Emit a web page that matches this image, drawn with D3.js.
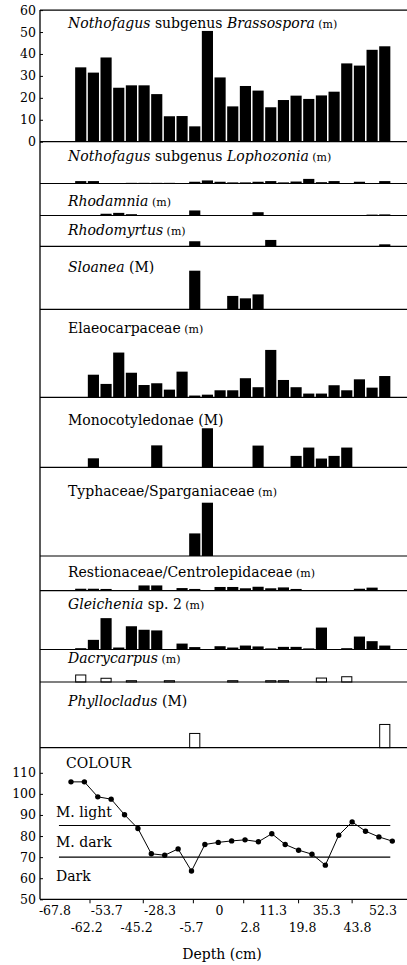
<!DOCTYPE html>
<html>
<head>
<meta charset="utf-8">
<script src="https://cdn.jsdelivr.net/npm/d3@7"></script>
<style>
  body { margin: 0; background: #fff; }
  svg { display: block; }
  text { font-family: "DejaVu Serif", serif; fill: #000; }
</style>
</head>
<body>
<svg id="chart" width="407" height="965"></svg>
<script>
// ---- Pollen percentages per sample (25 samples, top to bottom of the core) ----
const brassospora   = [33.9, 31.5, 38.4, 24.6, 25.7, 25.7, 21.7, 11.6, 11.7, 7.0, 50.5, 29.3, 16.1, 25.4, 23.3, 15.7, 19.0, 21.0, 19.5, 21.1, 22.8, 35.7, 34.7, 41.9, 43.5];
const lophozonia    = [1.1, 1.1, 0, 0, 0.3, 0.3, 0.3, 0.3, 0, 0.8, 1.4, 0.8, 0.5, 0.5, 0.8, 1.1, 0.5, 0.9, 2.1, 0.6, 1.1, 0, 0.8, 0, 1.1];
const rhodamnia     = [0, 0, 0.8, 1.2, 0.6, 0, 0, 0, 0, 2.3, 0, 0, 0, 0, 1.5, 0, 0, 0, 0, 0, 0, 0, 0, 0.4, 0.5];
const rhodomyrtus   = [0, 0, 0, 0, 0, 0, 0, 0, 0, 2.3, 0, 0, 0, 0, 0, 2.9, 0, 0, 0, 0, 0, 0, 0, 0, 0.9];
const sloanea       = [0, 0, 0, 0, 0, 0, 0, 0, 0, 17.6, 0, 0, 6.1, 5.0, 6.8, 0, 0, 0, 0, 0, 0, 0, 0, 0, 0];
const elaeocarpaceae = [0, 10.3, 6.1, 20.4, 11.2, 5.6, 6.4, 3.5, 11.7, 0.8, 1.2, 3.2, 3.2, 8.7, 4.6, 21.6, 7.9, 4.6, 1.7, 1.7, 5.5, 3.2, 8.2, 4.4, 9.7];
const monocotyledonae = [0, 4.1, 0, 0, 0, 0, 10.0, 0, 0, 0, 17.8, 0, 0, 0, 9.9, 0, 0, 5.2, 9.0, 4.0, 5.2, 9.0, 0, 0, 0];
const typhaceae     = [0, 0, 0, 0, 0, 0, 0, 0, 0, 10.3, 24.3, 0, 0, 0, 0, 0, 0, 0, 0, 0, 0, 0, 0, 0, 0];
const restionaceae  = [0.9, 0.9, 0.8, 0.3, 0, 2.4, 2.4, 0, 1.2, 0.8, 0, 1.7, 1.7, 1.1, 1.8, 1.1, 1.5, 0.8, 0, 0, 0, 0, 0.9, 1.4, 0];
const gleichenia    = [0.6, 4.4, 14.3, 0.9, 10.6, 9.0, 8.7, 0, 2.7, 1.1, 0, 1.5, 0.9, 1.8, 1.4, 0.5, 1.2, 1.2, 0.5, 10.0, 0, 0.6, 5.9, 3.8, 1.8];
const dacrycarpus   = [3.2, 0, 1.7, 0, 0.6, 0, 0, 0.6, 0, 0, 0, 0, 0.6, 0, 0, 0.6, 0.6, 0, 0, 1.8, 0, 2.4, 0, 0, 0];
const phyllocladus  = [0, 0, 0, 0, 0, 0, 0, 0, 0, 6.5, 0, 0, 0, 0, 0, 0, 0, 0, 0, 0, 0, 0, 0, 0, 10.6];

// ---- Sediment colour index per sample ----
const colourIndex = [105.7, 105.7, 98.6, 97.5, 90.1, 83.6, 71.6, 70.9, 73.9, 63.4, 76.0, 77.0, 77.7, 78.2, 77.3, 81.1, 76.0, 73.3, 71.4, 66.2, 80.4, 86.7, 82.3, 79.6, 77.6];
const colourClassBounds = [85, 70];
const colourClassNames = ["M. light", "M. dark", "Dark"];

// ---- Tick labels ----
const pollenTicks = [0, 10, 20, 30, 40, 50, 60];
const colourTicks = [50, 60, 70, 80, 90, 100, 110];
const depthLabels = ["-67.8", "-62.2", "-53.7", "-45.2", "-28.3", "-5.7", "0", "2.8", "11.3", "19.8", "35.3", "43.8", "52.3"];

// ---- Layout ----
const W = 407;
const axisX = 40;
const labelX = 68;
const svg = d3.select("#chart");

// label placement along the depth axis, in sample-index units
const depthLabelAt = [-1.2, 1.17, 2.67, 4.9, 6.65, 9.0, 11.1, 13.4, 15.1, 17.3, 19.1, 21.4, 23.3];
const depthTickAt = [1.42, 5.4, 9.14, 12.9, 17.0, 21.0];
// class label baselines, in colour-index units
const classLabelAt = [89.2, 74.7, 58.7];

// shared bar positions
const nSamples = brassospora.length;
const xBand = d3.scaleBand().domain(d3.range(nSamples)).range([74.4, 391.1]).paddingInner(0.12).paddingOuter(0.06);
// colour curve positions
const xCol = d3.scaleLinear().domain([0, nSamples - 1]).range([71, 392.3]);

// percent scale (same px per percent in all pollen panels)
const yTop = d3.scaleLinear().domain([0, 60]).range([141.7, 10.1]);
const pxPerPct = (yTop(0) - yTop(60)) / 60;

// panels below the first one: label parts, data, height, label baseline offset
const sm = "s";
const panels = [
  { parts: [["Nothofagus", "i"], [" subgenus ", ""], ["Lophozonia", "i"], [" (m)", sm]], data: lophozonia, h: 41.8, lb: 19 },
  { parts: [["Rhodamnia", "i"], [" (m)", sm]], data: rhodamnia, h: 32, lb: 22 },
  { parts: [["Rhodomyrtus", "i"], [" (m)", sm]], data: rhodomyrtus, h: 30.8, lb: 19 },
  { parts: [["Sloanea", "i"], [" (M)", ""]], data: sloanea, h: 63, lb: 25.4 },
  { parts: [["Elaeocarpaceae", ""], [" (m)", sm]], data: elaeocarpaceae, h: 88, lb: 24 },
  { parts: [["Monocotyledonae", ""], [" (M)", ""]], data: monocotyledonae, h: 70, lb: 27.7 },
  { parts: [["Typhaceae/Sparganiaceae", ""], [" (m)", sm]], data: typhaceae, h: 88.7, lb: 28.7 },
  { parts: [["Restionaceae/Centrolepidaceae", ""], [" (m)", sm]], data: restionaceae, h: 34.7, lb: 20.7 },
  { parts: [["Gleichenia", "i"], [" sp. 2", ""], [" (m)", sm]], data: gleichenia, h: 58.8, lb: 18.6 },
  { parts: [["Dacrycarpus", "i"], [" (m)", sm]], data: dacrycarpus, h: 32.5, lb: 13.2, hollow: true },
  { parts: [["Phyllocladus", "i"], [" (M)", ""]], data: phyllocladus, h: 65.7, lb: 24, hollow: true }
];

function drawLabel(g, parts, x, y) {
  const t = g.append("text").attr("x", x).attr("y", y).attr("font-size", 14);
  parts.forEach(([s, style]) => {
    const sp = t.append("tspan").text(s);
    if (style === "i") sp.attr("font-style", "italic");
    if (style === "s") sp.attr("font-size", 11);
  });
}

function drawBars(g, data, base, hollow) {
  g.selectAll("rect")
    .data(data.map((v, i) => ({ v, i })).filter(d => d.v > 0))
    .join("rect")
    .attr("x", d => xBand(d.i) + (hollow ? 0.5 : 0))
    .attr("width", xBand.bandwidth() - (hollow ? 1 : 0))
    .attr("y", d => base - d.v * pxPerPct)
    .attr("height", d => d.v * pxPerPct)
    .attr("fill", hollow ? "#fff" : "#000")
    .attr("stroke", hollow ? "#000" : "none")
    .attr("stroke-width", 1);
}

function styleLeftAxis(ax) {
  ax.select(".domain").remove();
  ax.selectAll("line").attr("stroke", "#000");
  ax.selectAll("text").attr("font-size", 12.5).attr("font-family", "DejaVu Serif").attr("fill", "#000");
}

// ---- First panel: Nothofagus subgenus Brassospora with its own axis ----
const g0 = svg.append("g");
drawBars(g0, brassospora, yTop(0), false);
drawLabel(g0, [["Nothofagus", "i"], [" subgenus ", ""], ["Brassospora", "i"], [" (m)", sm]], labelX, 28.3);
svg.append("line").attr("x1", axisX).attr("x2", W).attr("y1", yTop(60)).attr("y2", yTop(60))
  .attr("stroke", "#000").attr("stroke-width", 1.2);
styleLeftAxis(svg.append("g").attr("transform", `translate(${axisX},0)`)
  .call(d3.axisLeft(yTop).tickValues(pollenTicks).tickSizeInner(-3).tickSizeOuter(0).tickPadding(4)));

// ---- Remaining pollen panels ----
let base = yTop(0);
svg.append("line").attr("x1", axisX).attr("x2", W).attr("y1", base).attr("y2", base)
  .attr("stroke", "#000").attr("stroke-width", 1.2);
panels.forEach(p => {
  const top = base;
  base = top + p.h;
  const g = svg.append("g");
  drawLabel(g, p.parts, labelX, top + p.lb);
  drawBars(g, p.data, base, p.hollow);
  svg.append("line").attr("x1", axisX).attr("x2", W).attr("y1", base).attr("y2", base)
    .attr("stroke", "#000").attr("stroke-width", 1.2);
});

// ---- Colour panel ----
const yCol = d3.scaleLinear().domain([50, 110]).range([899.3, 772.8]);
const gc = svg.append("g");
gc.selectAll("line.bound").data(colourClassBounds).join("line")
  .attr("class", "bound")
  .attr("x1", xCol(-0.9)).attr("x2", xCol(23.85))
  .attr("y1", d => yCol(d)).attr("y2", d => yCol(d))
  .attr("stroke", "#000").attr("stroke-width", 1.1);
gc.append("path")
  .attr("d", d3.line().x((d, i) => xCol(i)).y(d => yCol(d))(colourIndex))
  .attr("fill", "none").attr("stroke", "#000").attr("stroke-width", 1);
gc.selectAll("circle").data(colourIndex).join("circle")
  .attr("cx", (d, i) => xCol(i)).attr("cy", d => yCol(d)).attr("r", 2.7).attr("fill", "#000");

gc.append("text").attr("x", 66).attr("y", 768.3).attr("font-size", 14).text("COLOUR");
colourClassNames.forEach((n, i) => {
  gc.append("text").attr("x", 56).attr("y", yCol(classLabelAt[i])).attr("font-size", 14).text(n);
});

styleLeftAxis(svg.append("g").attr("transform", `translate(${axisX},0)`)
  .call(d3.axisLeft(yCol).tickValues(colourTicks).tickSizeInner(-3).tickSizeOuter(0).tickPadding(4)));

// ---- Frame: vertical axis and depth axis ----
svg.append("line").attr("x1", axisX).attr("x2", axisX).attr("y1", yTop(60)).attr("y2", yCol(50))
  .attr("stroke", "#000").attr("stroke-width", 1.3);
svg.append("line").attr("x1", axisX).attr("x2", W).attr("y1", yCol(50)).attr("y2", yCol(50))
  .attr("stroke", "#000").attr("stroke-width", 1.3);

const gd = svg.append("g");
gd.selectAll("line").data(depthTickAt).join("line")
  .attr("x1", d => xCol(d)).attr("x2", d => xCol(d))
  .attr("y1", yCol(50)).attr("y2", yCol(50) + 4)
  .attr("stroke", "#000").attr("stroke-width", 1);
gd.selectAll("text").data(depthLabels).join("text")
  .attr("x", (d, i) => xCol(depthLabelAt[i]))
  .attr("y", (d, i) => i % 2 === 0 ? 915 : 931.5)
  .attr("text-anchor", "middle").attr("font-size", 12.5)
  .text(d => d);
svg.append("text").attr("x", 222).attr("y", 958.5).attr("text-anchor", "middle")
  .attr("font-size", 14).text("Depth (cm)");
</script>
</body>
</html>
